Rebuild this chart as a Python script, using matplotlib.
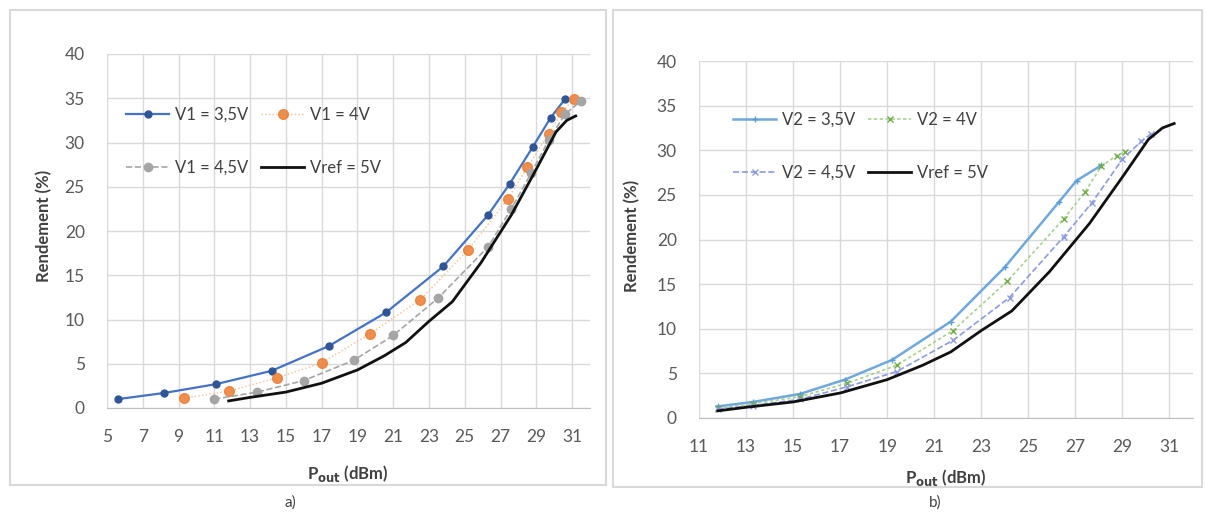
import matplotlib
matplotlib.use("Agg")
import matplotlib.pyplot as plt
from matplotlib.patches import Rectangle

plt.rcParams['font.family'] = ['Lato', 'DejaVu Sans']

# ---------------- data ----------------
# panel a)
a_x_35 = [5.6, 8.2, 11.1, 14.2, 17.4, 20.6, 23.8, 26.3, 27.5, 28.8, 29.8, 30.6]
a_y_35 = [1.0, 1.7, 2.7, 4.2, 7.0, 10.8, 16.0, 21.8, 25.3, 29.5, 32.8, 34.9]
a_x_4 = [9.3, 11.8, 14.5, 17.0, 19.7, 22.5, 25.2, 27.4, 28.5, 29.7, 30.4, 31.1]
a_y_4 = [1.1, 1.9, 3.4, 5.1, 8.4, 12.2, 17.9, 23.6, 27.2, 31.0, 33.4, 34.9]
a_x_45 = [11.0, 13.4, 16.0, 18.8, 21.0, 23.5, 26.3, 27.6, 28.7, 29.7, 30.6, 31.5]
a_y_45 = [1.0, 1.8, 3.1, 5.4, 8.2, 12.4, 18.2, 22.5, 26.5, 30.3, 33.2, 34.7]
# reference (both panels)
ref_x = [11.8, 13.0, 15.0, 17.0, 19.0, 20.5, 21.7, 23.0, 24.3, 25.9, 27.6, 29.0, 30.1, 30.7, 31.2]
ref_y = [0.8, 1.2, 1.8, 2.8, 4.3, 5.9, 7.4, 9.8, 12.0, 16.4, 21.8, 27.0, 31.2, 32.5, 33.0]
# panel b)
b_x_35 = [11.8, 13.3, 15.3, 17.2, 19.2, 21.7, 24.0, 26.3, 27.05, 28.1]
b_y_35 = [1.3, 1.8, 2.7, 4.3, 6.5, 10.8, 16.9, 24.2, 26.6, 28.3]
b_x_4 = [11.8, 13.3, 15.3, 17.3, 19.4, 21.8, 24.1, 26.5, 27.4, 28.1, 28.75, 29.1]
b_y_4 = [1.1, 1.6, 2.4, 3.9, 5.9, 9.8, 15.3, 22.3, 25.3, 28.2, 29.4, 29.8]
b_x_45 = [11.8, 13.3, 15.3, 17.3, 19.4, 21.8, 24.2, 26.5, 27.7, 29.0, 29.8, 30.2]
b_y_45 = [1.0, 1.4, 2.1, 3.5, 5.2, 8.7, 13.5, 20.3, 24.1, 29.0, 31.0, 31.8]

a_labels = ['V1 = 3,5V', 'V1 = 4V', 'V1 = 4,5V', 'Vref = 5V']
b_labels = ['V2 = 3,5V', 'V2 = 4V', 'V2 = 4,5V', 'Vref = 5V']
a_xticks = list(range(5, 32, 2))
b_xticks = list(range(11, 32, 2))
yticks = list(range(0, 41, 5))

# ---------------- figure ----------------
W, H = 1205, 513
fig = plt.figure(figsize=(W / 100, H / 100), dpi=100)
fig.patch.set_facecolor('white')


def fx(px):
    return px / W


def fy(py):
    return 1 - py / H


# panel borders
for (x0, y0, x1, y1) in [(10, 10, 606, 485), (613, 10, 1202, 487)]:
    fig.patches.append(Rectangle((fx(x0), fy(y1)), fx(x1) - fx(x0), fy(y0) - fy(y1),
                                 transform=fig.transFigure, fill=False,
                                 edgecolor='#D9D9D9', lw=1.5))

axA = fig.add_axes([fx(107), fy(408), fx(590) - fx(107), fy(54) - fy(408)])
axB = fig.add_axes([fx(699), fy(418), fx(1193) - fx(699), fy(61) - fy(418)])

TICKC = '#595959'


def style(ax, xmin, xmax, xt):
    ax.set_xlim(xmin, xmax)
    ax.set_ylim(0, 40)
    ax.set_xticks(xt)
    ax.set_yticks(yticks)
    ax.grid(True, color='#D9D9D9', lw=1.0)
    ax.set_axisbelow(True)
    for s in ['top', 'right', 'left']:
        ax.spines[s].set_visible(False)
    ax.spines['bottom'].set_color('#BFBFBF')
    ax.tick_params(length=0, labelsize=12.5, colors=TICKC, pad=15)
    ax.tick_params(axis='y', pad=16)
    ax.set_ylabel('Rendement (%)', fontsize=12, fontweight='bold', color='#404040')
    ax.set_xlabel(r'P$_{\mathbf{out}}$ (dBm)', fontsize=12, fontweight='bold', color='#404040')


style(axA, 5, 32, a_xticks)
style(axB, 11, 32, b_xticks)

# panel a) curves
hA = []
hA += axA.plot(a_x_35, a_y_35, color='#4472C4', lw=1.6, marker='o', ms=5,
               mfc='#2F5597', mec='#2F5597', label=a_labels[0])
hA += axA.plot(a_x_4, a_y_4, color='#F4B183', lw=1.0, ls=':', marker='o', ms=7,
               mfc='#ED7D31', mec='#ED7D31', alpha=0.85, label=a_labels[1])
hA += axA.plot(a_x_45, a_y_45, color='#A5A5A5', lw=1.2, ls='--', marker='o', ms=6,
               mfc='#A5A5A5', mec='#A5A5A5', label=a_labels[2])
hA += axA.plot(ref_x, ref_y, color='#111111', lw=2.0, label=a_labels[3])

# panel b) curves
hB = []
hB += axB.plot(b_x_35, b_y_35, color='#6FA8DC', lw=1.8, marker='+', ms=5,
               mec='#5B9BD5', label=b_labels[0])
hB += axB.plot(b_x_4, b_y_4, color='#A9D18E', lw=1.2, ls=(0, (2, 1.5)), marker='x', ms=4.5,
               mec='#70AD47', label=b_labels[1])
hB += axB.plot(b_x_45, b_y_45, color='#8E9BE0', lw=1.2, ls='--', marker='x', ms=4,
               mec='#8E9BE0', label=b_labels[2])
hB += axB.plot(ref_x, ref_y, color='#111111', lw=2.0, label=b_labels[3])

# legend laid out row-wise (matplotlib fills columns first)
order = [0, 2, 1, 3]
leg_kw = dict(ncol=2, frameon=False, fontsize=12, handlelength=2.6, handletextpad=0.35,
              columnspacing=0.75, labelspacing=2.2, borderpad=0, borderaxespad=0,
              loc='upper left', bbox_transform=fig.transFigure, labelcolor='#404040')
axA.legend(handles=[hA[i] for i in order], bbox_to_anchor=(fx(126), fy(107)), **leg_kw)
axB.legend(handles=[hB[i] for i in order], bbox_to_anchor=(fx(733), fy(112)), **leg_kw)

# axis label positions
axA.yaxis.set_label_coords(fx(52), fy(226), transform=fig.transFigure)
axB.yaxis.set_label_coords(fx(640), fy(236), transform=fig.transFigure)
axA.xaxis.set_label_coords(fx(348), fy(463), transform=fig.transFigure)
axB.xaxis.set_label_coords(fx(946), fy(467), transform=fig.transFigure)

fig.text(fx(290), fy(503), 'a)', ha='center', va='center', fontsize=11, color='#404040')
fig.text(fx(935), fy(503), 'b)', ha='center', va='center', fontsize=11, color='#404040')

fig.savefig('out.png', dpi=100, facecolor='white')
